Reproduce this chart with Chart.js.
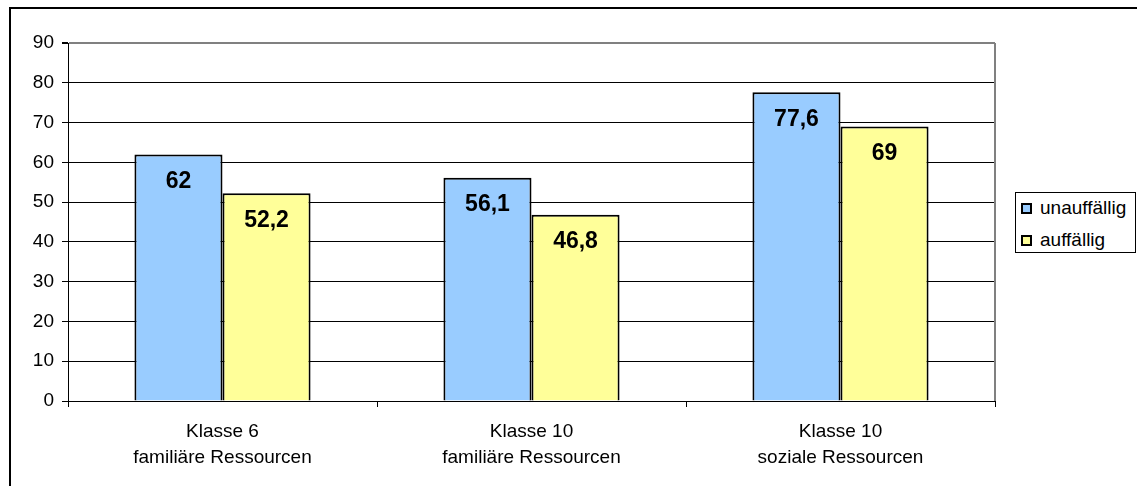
<!DOCTYPE html>
<html>
<head>
<meta charset="utf-8">
<script src="https://cdn.jsdelivr.net/npm/chart.js@4/dist/chart.umd.min.js"></script>
<style>
  html, body { margin: 0; padding: 0; background: #fff; overflow: hidden; }
  #wrap { position: relative; width: 1137px; height: 486px; }
  #frame { position: absolute; left: 9px; top: 7px; width: 1200px; height: 600px;
           border: 2px solid #000; box-sizing: border-box; pointer-events: none; }
  #legend { position: absolute; left: 1015px; top: 192px; width: 121px; height: 61px;
            border: 1px solid #000; box-sizing: border-box; background: #fff;
            font: 19px "Liberation Sans", Arial, sans-serif; color: #000; }
  .item { position: absolute; left: 5px; height: 22px; display: flex; align-items: center; white-space: nowrap; }
  .swatch { width: 7px; height: 7px; border: 2px solid #000; margin-right: 8px; }
  canvas { position: absolute; left: 0; top: 0; }
</style>
</head>
<body>
<div id="wrap">
  <canvas id="c" width="1137" height="486"></canvas>
  <div id="frame"></div>
  <div id="legend"></div>
</div>
<script>
// Categories (two-line labels) and series values
const categories = [
  ["Klasse 6", "familiäre Ressourcen"],
  ["Klasse 10", "familiäre Ressourcen"],
  ["Klasse 10", "soziale Ressourcen"]
];
const seriesNames = ["unauffällig", "auffällig"];
const unauffaellig = [62, 56.1, 77.6];
const auffaellig = [52.2, 46.8, 69];
const yTicks = [0, 10, 20, 30, 40, 50, 60, 70, 80, 90];

const colors = ["#99CCFF", "#FFFF99"];
const FONT = '"Liberation Sans", Arial, sans-serif';

// German decimal comma for value labels
const fmt = v => String(v).replace(".", ",");

// Value labels inside the top of each bar
const valueLabels = {
  id: "valueLabels",
  afterDatasetsDraw(chart) {
    const ctx = chart.ctx;
    ctx.save();
    ctx.font = "bold 23px " + FONT;
    ctx.fillStyle = "#000";
    ctx.textAlign = "center";
    ctx.textBaseline = "middle";
    chart.data.datasets.forEach((ds, i) => {
      chart.getDatasetMeta(i).data.forEach((bar, j) => {
        ctx.fillText(fmt(ds.data[j]), bar.x, bar.y + 27);
      });
    });
    ctx.restore();
  }
};

// Gray right edge of the plot area
const plotEdge = {
  id: "plotEdge",
  beforeDatasetsDraw(chart) {
    const a = chart.chartArea, ctx = chart.ctx;
    ctx.save();
    ctx.strokeStyle = "#808080";
    ctx.lineWidth = 2;
    ctx.beginPath();
    ctx.moveTo(a.right, a.top);
    ctx.lineTo(a.right, a.bottom);
    ctx.stroke();
    ctx.restore();
  }
};

const chart = new Chart(document.getElementById("c"), {
  type: "bar",
  data: {
    labels: categories,
    datasets: [
      { label: seriesNames[0], data: unauffaellig, backgroundColor: colors[0],
        borderColor: "#000", borderWidth: 2, borderSkipped: "bottom" },
      { label: seriesNames[1], data: auffaellig, backgroundColor: colors[1],
        borderColor: "#000", borderWidth: 2, borderSkipped: "bottom" }
    ]
  },
  options: {
    responsive: false,
    animation: false,
    devicePixelRatio: 1,
    layout: { padding: { left: 0, top: 43, right: 142, bottom: 0 } },
    datasets: { bar: { categoryPercentage: 0.57, barPercentage: 1.0 } },
    plugins: { legend: { display: false }, tooltip: { enabled: false } },
    scales: {
      x: {
        offset: true,
        grid: { offset: true, drawOnChartArea: false, drawTicks: true, tickLength: 6, color: "#000", lineWidth: 1 },
        border: { display: true, color: "#000", width: 1 },
        ticks: { color: "#000", font: { family: FONT, size: 19, lineHeight: 1.35 }, padding: 12, maxRotation: 0, autoSkip: false },
        afterFit(s) { s.height = 85; }
      },
      y: {
        min: 0, max: 90,
        afterBuildTicks(s) { s.ticks = yTicks.map(v => ({ value: v })); },
        grid: {
          color: c => (c.tick && c.tick.value === 90) ? "#808080" : "#000",
          lineWidth: c => (c.tick && c.tick.value === 90) ? 2 : 1,
          drawTicks: true, tickLength: 6, tickColor: "#000"
        },
        border: { display: true, color: "#000", width: 1 },
        ticks: { color: "#000", font: { family: FONT, size: 19 }, padding: 8 },
        afterFit(s) { s.width = 68; }
      }
    }
  },
  plugins: [plotEdge, valueLabels]
});

// HTML legend built from the dataset list
const legend = document.getElementById("legend");
chart.data.datasets.forEach((ds, i) => {
  const item = document.createElement("div");
  item.className = "item";
  item.style.top = (4 + i * 32) + "px";
  const sw = document.createElement("span");
  sw.className = "swatch";
  sw.style.background = ds.backgroundColor;
  const tx = document.createElement("span");
  tx.textContent = ds.label;
  item.appendChild(sw);
  item.appendChild(tx);
  legend.appendChild(item);
});
</script>
</body>
</html>
